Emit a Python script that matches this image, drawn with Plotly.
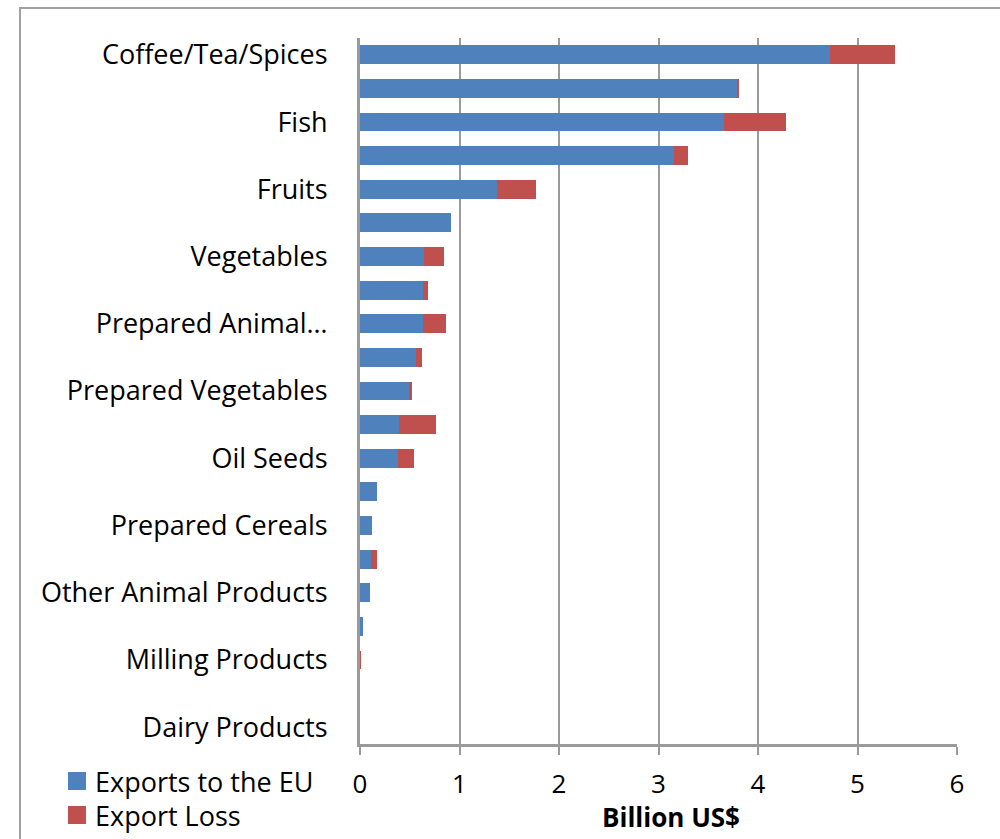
import plotly.graph_objects as go

# Category labels, top to bottom (only every other category is labelled)
labels = [
    "Coffee/Tea/Spices", "", "Fish", "", "Fruits", "", "Vegetables", "",
    "Prepared Animal…", "", "Prepared Vegetables", "", "Oil Seeds", "",
    "Prepared Cereals", "", "Other Animal Products", "", "Milling Products",
    "", "Dairy Products",
]

# Billion US$
exports_eu = [4.72, 3.79, 3.66, 3.16, 1.38, 0.91, 0.64, 0.63, 0.63, 0.56, 0.50,
              0.39, 0.385, 0.17, 0.12, 0.11, 0.10, 0.03, 0.0, 0.0, 0.0]
export_loss = [0.66, 0.02, 0.62, 0.14, 0.39, 0.0, 0.20, 0.05, 0.23, 0.06, 0.02,
               0.37, 0.155, 0.0, 0.0, 0.06, 0.0, 0.0, 0.005, 0.0, 0.0]

series_names = ["Exports to the EU", "Export Loss"]

pos = list(range(len(labels)))

BLUE = "#4F81BD"
RED = "#C0504D"
FONT = "Open Sans"
FS = 27
GRID = "#9a9a9a"

W, H = 1000, 839
ML, MR, MT, MB = 360, 43, 38, 95
PW, PH = W - ML - MR, H - MT - MB


def px(x):
    """Pixel column -> paper x."""
    return (x - ML) / PW


def py(y):
    """Pixel row -> paper y."""
    return (H - MB - y) / PH


fig = go.Figure()
fig.add_trace(go.Bar(
    y=pos, x=exports_eu, orientation="h", name=series_names[0],
    marker=dict(color=BLUE, line=dict(width=0)),
))
fig.add_trace(go.Bar(
    y=pos, x=export_loss, orientation="h", name=series_names[1],
    marker=dict(color=RED, line=dict(width=0)),
))

# Legend drawn in the lower-left corner: swatch + label per series
legend_shapes = []
legend_notes = []
for i, (name, col) in enumerate(zip(series_names, [BLUE, RED])):
    cy = 781 + i * 34
    legend_shapes.append(dict(
        type="rect", xref="paper", yref="paper",
        x0=px(68), x1=px(86), y0=py(cy + 9), y1=py(cy - 9),
        fillcolor=col, line=dict(width=0),
    ))
    legend_notes.append(dict(
        text=name, xref="paper", yref="paper", x=px(93), y=py(cy),
        xanchor="left", yanchor="middle", showarrow=False,
        font=dict(family=FONT, size=FS, color="#000000"),
    ))

fig.update_layout(
    barmode="stack",
    bargap=0.44,
    width=W, height=H,
    margin=dict(l=ML, r=MR, t=MT, b=MB),
    paper_bgcolor="white", plot_bgcolor="white",
    font=dict(family=FONT, size=FS, color="#000000"),
    showlegend=False,
    xaxis=dict(
        range=[0, 6], dtick=1, tick0=0,
        showgrid=True, gridcolor=GRID, gridwidth=2,
        showline=True, linecolor=GRID, linewidth=3,
        ticks="outside", ticklen=8, tickwidth=2, tickcolor=GRID,
        ticklabelstandoff=7,
        zeroline=False, automargin=False,
        tickfont=dict(family=FONT, size=26, color="#000000"),
        fixedrange=True,
    ),
    yaxis=dict(
        range=[len(labels) - 0.5, -0.5],
        tickmode="array", tickvals=pos, ticktext=labels,
        showgrid=False, zeroline=False, automargin=False,
        showline=True, linecolor=GRID, linewidth=3,
        ticks="", ticklabelstandoff=24,
        tickfont=dict(family=FONT, size=FS, color="#000000"),
        fixedrange=True,
    ),
    annotations=legend_notes + [
        dict(
            text="<b>Billion US$</b>", xref="paper", yref="paper",
            x=px(671), y=py(817),
            xanchor="center", yanchor="middle", showarrow=False,
            font=dict(family=FONT, size=26, color="#000000"),
        )
    ],
    shapes=legend_shapes + [
        # outer chart frame
        dict(
            type="rect", xref="paper", yref="paper",
            x0=px(20), x1=px(1010), y0=py(850), y1=py(8),
            line=dict(color="#a0a0a0", width=2), fillcolor="rgba(0,0,0,0)",
            layer="below",
        )
    ],
)

fig.write_html("out.html")
